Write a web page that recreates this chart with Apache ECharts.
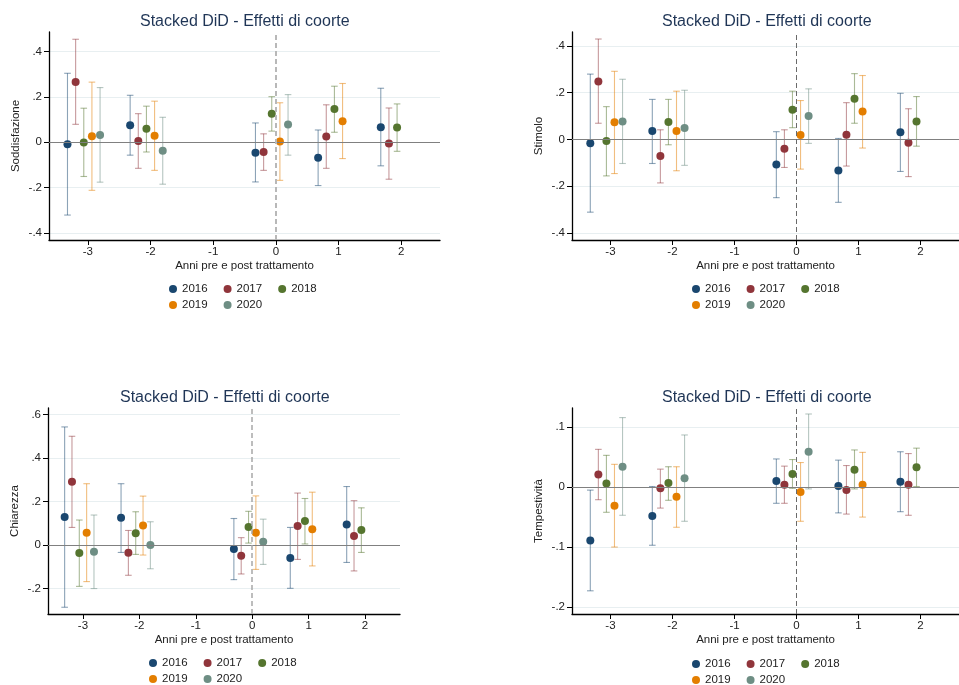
<!DOCTYPE html>
<html>
<head>
<meta charset="utf-8">
<script src="https://cdn.jsdelivr.net/npm/echarts@6/dist/echarts.min.js"></script>
<style>
html,body{margin:0;padding:0;background:#fff;}
#chart{width:959px;height:685px;}
</style>
</head>
<body>
<div id="chart"></div>
<script>
// ---------- DATA ----------
const relYears = [-3, -2, -1, 0, 1, 2];
const cohorts = ['2016', '2017', '2018', '2019', '2020'];
const chartTitle = 'Stacked DiD - Effetti di coorte';
const xAxisTitle = 'Anni pre e post trattamento';
const outcomeNames = ['Soddisfazione', 'Stimolo', 'Chiarezza', 'Tempestività'];

const soddTicks = [-0.4, -0.2, 0, 0.2, 0.4];
const stimTicks = [-0.4, -0.2, 0, 0.2, 0.4];
const chiaTicks = [-0.2, 0, 0.2, 0.4, 0.6];
const tempTicks = [-0.2, -0.1, 0, 0.1];

// rows = cohorts (2016..2020), columns = relYears (-3..2)
const soddEst = [
  [-0.009, 0.075, null, -0.046, -0.068, 0.066],
  [0.266, 0.006, null, -0.043, 0.025, -0.006],
  [-0.001, 0.059, null, 0.126, 0.146, 0.065],
  [0.026, 0.029, null, 0.003, 0.093, null],
  [0.032, -0.038, null, 0.078, null, null]
];
const soddLo = [
  [-0.321, -0.057, null, -0.175, -0.191, -0.104],
  [0.079, -0.115, null, -0.124, -0.115, -0.163],
  [-0.151, -0.043, null, 0.049, 0.044, -0.040],
  [-0.212, -0.124, null, -0.168, -0.072, null],
  [-0.176, -0.185, null, -0.057, null, null]
];
const soddHi = [
  [0.304, 0.207, null, 0.085, 0.054, 0.238],
  [0.454, 0.126, null, 0.037, 0.165, 0.151],
  [0.150, 0.159, null, 0.201, 0.247, 0.169],
  [0.265, 0.181, null, 0.174, 0.259, null],
  [0.241, 0.110, null, 0.210, null, null]
];

const stimEst = [
  [-0.016, 0.036, null, -0.107, -0.133, 0.030],
  [0.247, -0.071, null, -0.040, 0.020, -0.014],
  [-0.007, 0.074, null, 0.127, 0.174, 0.076],
  [0.073, 0.036, null, 0.019, 0.119, null],
  [0.077, 0.049, null, 0.100, null, null]
];
const stimLo = [
  [-0.311, -0.103, null, -0.249, -0.269, -0.137],
  [0.069, -0.186, null, -0.120, -0.114, -0.159],
  [-0.156, -0.023, null, 0.050, 0.069, -0.029],
  [-0.146, -0.134, null, -0.127, -0.037, null],
  [-0.103, -0.111, null, -0.017, null, null]
];
const stimHi = [
  [0.279, 0.171, null, 0.033, 0.004, 0.197],
  [0.429, 0.041, null, 0.041, 0.157, 0.131],
  [0.140, 0.171, null, 0.206, 0.281, 0.183],
  [0.291, 0.206, null, 0.166, 0.273, null],
  [0.257, 0.210, null, 0.216, null, null]
];

const chiaEst = [
  [0.129, 0.125, null, -0.018, -0.060, 0.095],
  [0.291, -0.035, null, -0.049, 0.087, 0.041],
  [-0.037, 0.054, null, 0.083, 0.110, 0.069],
  [0.057, 0.090, null, 0.057, 0.073, null],
  [-0.031, 0.000, null, 0.015, null, null]
];
const chiaLo = [
  [-0.286, -0.034, null, -0.159, -0.199, -0.080],
  [0.081, -0.139, null, -0.133, -0.066, -0.119],
  [-0.190, -0.043, null, 0.009, 0.005, -0.034],
  [-0.168, -0.046, null, -0.112, -0.096, null],
  [-0.200, -0.109, null, -0.089, null, null]
];
const chiaHi = [
  [0.543, 0.282, null, 0.122, 0.081, 0.269],
  [0.500, 0.067, null, 0.034, 0.239, 0.204],
  [0.115, 0.153, null, 0.155, 0.214, 0.171],
  [0.282, 0.225, null, 0.226, 0.243, null],
  [0.138, 0.107, null, 0.119, null, null]
];

const tempEst = [
  [-0.089, -0.048, null, 0.010, 0.002, 0.009],
  [0.021, -0.002, null, 0.004, -0.005, 0.004],
  [0.006, 0.007, null, 0.022, 0.029, 0.033],
  [-0.031, -0.016, null, -0.008, 0.004, null],
  [0.034, 0.015, null, 0.059, null, null]
];
const tempLo = [
  [-0.173, -0.097, null, -0.027, -0.043, -0.041],
  [-0.021, -0.035, null, -0.027, -0.045, -0.047],
  [-0.042, -0.022, null, -0.002, -0.003, 0.001],
  [-0.100, -0.067, null, -0.057, -0.050, null],
  [-0.047, -0.057, null, -0.003, null, null]
];
const tempHi = [
  [-0.005, 0.001, null, 0.047, 0.045, 0.059],
  [0.063, 0.030, null, 0.035, 0.036, 0.056],
  [0.053, 0.034, null, 0.046, 0.062, 0.065],
  [0.038, 0.034, null, 0.041, 0.058, null],
  [0.116, 0.087, null, 0.122, null, null]
];

// ---------- STYLE / LAYOUT ----------
const FONT = '"Liberation Sans", Arial, Helvetica, sans-serif';
const colors = ['#1a476f', '#90353b', '#55752f', '#e37e00', '#6e8e84'];
const dodge = [-0.325, -0.195, -0.065, 0.065, 0.195];
function rgba(hex, a) {
  const n = parseInt(hex.slice(1), 16);
  return 'rgba(' + ((n >> 16) & 255) + ',' + ((n >> 8) & 255) + ',' + (n & 255) + ',' + a + ')';
}
function stataFmt(v) {
  if (Math.abs(v) < 1e-9) return '0';
  const s = Math.abs(v).toString().replace(/^0/, '');
  return (v < 0 ? '-' : '') + s;
}

const panels = [
  { name: outcomeNames[0], est: soddEst, lo: soddLo, hi: soddHi, ticks: soddTicks, ymin: -0.431, ymax: 0.486,
    grid: { left: 49, top: 32, width: 391, height: 208 }, titleLeft: 140, titleTop: 14,
    legendLeft: 169, legendTop: 283, vColor: '#b8b8b8', vWidth: 2 },
  { name: outcomeNames[1], est: stimEst, lo: stimLo, hi: stimHi, ticks: stimTicks, ymin: -0.430, ymax: 0.459,
    grid: { left: 572, top: 32, width: 390, height: 208 }, titleLeft: 662, titleTop: 14,
    legendLeft: 692, legendTop: 283, vColor: '#6a6a6a', vWidth: 1 },
  { name: outcomeNames[2], est: chiaEst, lo: chiaLo, hi: chiaHi, ticks: chiaTicks, ymin: -0.317, ymax: 0.630,
    grid: { left: 48, top: 408, width: 352, height: 206 }, titleLeft: 120, titleTop: 390,
    legendLeft: 149, legendTop: 657, vColor: '#a8a8a8', vWidth: 1.5 },
  { name: outcomeNames[3], est: tempEst, lo: tempLo, hi: tempHi, ticks: tempTicks, ymin: -0.2117, ymax: 0.132,
    grid: { left: 572, top: 408, width: 390, height: 206 }, titleLeft: 662, titleTop: 390,
    legendLeft: 692, legendTop: 658, vColor: '#6a6a6a', vWidth: 1 }
];

const xTicks = relYears;
const option = {
  backgroundColor: '#ffffff',
  animation: false,
  textStyle: { fontFamily: FONT },
  title: [], grid: [], xAxis: [], yAxis: [], legend: [], series: []
};

panels.forEach(function (p, pi) {
  option.title.push({
    text: chartTitle, left: p.titleLeft, top: p.titleTop, padding: 0,
    textStyle: { fontFamily: FONT, fontSize: 16, fontWeight: 'normal', color: '#1f3556', lineHeight: 16 }
  });
  option.grid.push(Object.assign({ containLabel: false }, p.grid));
  option.xAxis.push({
    type: 'value', gridIndex: pi, min: -3.62, max: 2.62,
    name: xAxisTitle, nameLocation: 'middle', nameGap: 20,
    nameTextStyle: { fontFamily: FONT, fontSize: 11.5, color: '#222' },
    axisLine: { onZero: false, lineStyle: { color: '#000', width: 1.3 } },
    axisTick: { show: true, length: 5, customValues: xTicks, lineStyle: { color: '#000' } },
    axisLabel: { customValues: xTicks, margin: 6, fontFamily: FONT, fontSize: 11.5, color: '#222',
      formatter: function (v) { return String(v); } },
    splitLine: { show: false }
  });
  option.yAxis.push({
    type: 'value', gridIndex: pi, min: p.ymin, max: p.ymax,
    name: p.name, nameLocation: 'middle', nameGap: 27,
    nameTextStyle: { fontFamily: FONT, fontSize: 11.5, color: '#222' },
    axisLine: { show: true, onZero: false, lineStyle: { color: '#000', width: 1.3 } },
    axisTick: { show: true, length: 5, customValues: p.ticks, lineStyle: { color: '#000' } },
    axisLabel: { customValues: p.ticks, margin: 7, fontFamily: FONT, fontSize: 11.5, color: '#222',
      formatter: stataFmt },
    splitLine: { show: true, lineStyle: { color: '#e8eff1', width: 1 } }
  });
  option.legend.push({
    data: cohorts.slice(0, 3), left: p.legendLeft, top: p.legendTop, orient: 'horizontal',
    icon: 'circle', itemWidth: 8, itemHeight: 8, itemGap: 16, padding: 0, selectedMode: false,
    textStyle: { fontFamily: FONT, fontSize: 11.5, color: '#222' }
  });
  option.legend.push({
    data: cohorts.slice(3), left: p.legendLeft, top: p.legendTop + 16, orient: 'horizontal',
    icon: 'circle', itemWidth: 8, itemHeight: 8, itemGap: 16, padding: 0, selectedMode: false,
    textStyle: { fontFamily: FONT, fontSize: 11.5, color: '#222' }
  });

  // reference lines (zero line and treatment line)
  option.series.push({
    type: 'scatter', name: 'ref' + pi, xAxisIndex: pi, yAxisIndex: pi, data: [], silent: true, z: 1,
    markLine: {
      silent: true, symbol: ['none', 'none'], label: { show: false }, animation: false,
      data: [
        { yAxis: 0, lineStyle: { color: '#808080', width: 1.2, type: 'solid' } },
        { xAxis: 0, lineStyle: { color: p.vColor, width: p.vWidth, type: [5, 3] } }
      ]
    }
  });

  cohorts.forEach(function (c, ci) {
    const ciData = [];
    const ptData = [];
    relYears.forEach(function (ry, ri) {
      const e = p.est[ci][ri];
      if (e === null || e === undefined) return;
      const xv = ry + dodge[ci];
      ciData.push([xv, p.lo[ci][ri], p.hi[ci][ri]]);
      ptData.push([xv, e]);
    });
    const stroke = rgba(colors[ci], 0.5);
    option.series.push({
      type: 'custom', name: c + ' CI', xAxisIndex: pi, yAxisIndex: pi, z: 2, silent: true,
      encode: { x: 0, y: [1, 2] },
      data: ciData,
      renderItem: function (params, api) {
        const x = api.value(0);
        const top = api.coord([x, api.value(2)]);
        const bot = api.coord([x, api.value(1)]);
        const cap = 3.3;
        const st = { stroke: stroke, lineWidth: 1.1, fill: null };
        return {
          type: 'group',
          children: [
            { type: 'line', shape: { x1: top[0], y1: top[1], x2: bot[0], y2: bot[1] }, style: st },
            { type: 'line', shape: { x1: top[0] - cap, y1: top[1], x2: top[0] + cap, y2: top[1] }, style: st },
            { type: 'line', shape: { x1: bot[0] - cap, y1: bot[1], x2: bot[0] + cap, y2: bot[1] }, style: st }
          ]
        };
      }
    });
    option.series.push({
      type: 'scatter', name: c, xAxisIndex: pi, yAxisIndex: pi, z: 3,
      symbol: 'circle', symbolSize: 8,
      itemStyle: { color: colors[ci], opacity: 1 },
      data: ptData
    });
  });
});

const chart = echarts.init(document.getElementById('chart'), null, { renderer: 'canvas' });
chart.setOption(option);
</script>
</body>
</html>
